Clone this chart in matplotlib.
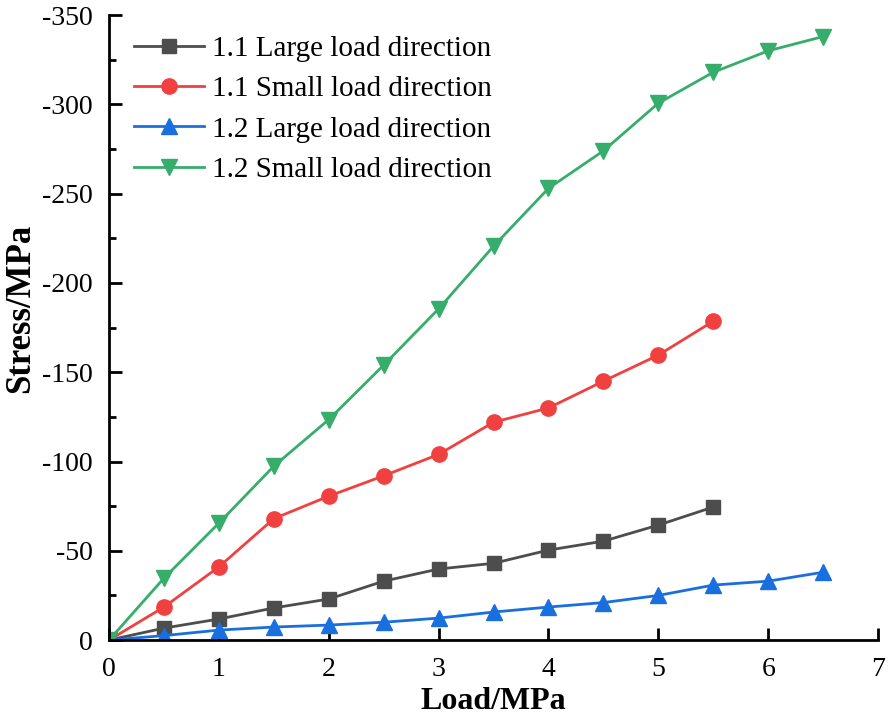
import matplotlib.pyplot as plt
from matplotlib.ticker import MultipleLocator, FuncFormatter

plt.rcParams['font.family'] = ['Liberation Serif', 'DejaVu Serif']

load_a = [0, 0.5, 1, 1.5, 2, 2.5, 3, 3.5, 4, 4.5, 5, 5.5]
load_b = [0, 0.5, 1, 1.5, 2, 2.5, 3, 3.5, 4, 4.5, 5, 5.5, 6, 6.5]

large_11 = [0, -6.7, -11.8, -18, -23, -33, -39.8, -43, -50.4, -55.4, -64.4, -74.5]
small_11 = [0, -18.5, -41, -68, -80.6, -92, -104, -122, -130, -145, -159.6, -178.6]
large_12 = [0, -2.5, -5.6, -7.3, -8.4, -10, -12.3, -15.7, -18.5, -21, -25, -30.8, -33, -38]
small_12 = [0, -34.7, -65.5, -97.4, -123.5, -154, -185.5, -220.6, -253, -274, -300.7, -318, -330, -338]

fig = plt.figure(figsize=(8.96, 7.2), dpi=100)
ax = fig.add_axes([0.1217, 0.111, 0.8583, 0.868])

ms = 11
ax.plot(load_a, large_11, marker='s', color='#4D4D4D', lw=2, ms=ms - 1, label='1.1 Large load direction')
ax.plot(load_a, small_11, marker='o', color='#F14040', lw=2, ms=ms, label='1.1 Small load direction')
ax.plot(load_b, large_12, marker='^', color='#1A6FDF', lw=2, ms=ms, label='1.2 Large load direction')
ax.plot(load_b, small_12, marker='v', color='#37AD6B', lw=2, ms=ms, label='1.2 Small load direction')

ax.set_xlim(0, 7)
ax.set_ylim(0, -350)
ax.xaxis.set_major_locator(MultipleLocator(1))
ax.yaxis.set_major_locator(MultipleLocator(50))
ax.yaxis.set_minor_locator(MultipleLocator(25))
ax.yaxis.set_major_formatter(FuncFormatter(lambda v, p: '%d' % v))

for s in ['top', 'right']:
    ax.spines[s].set_visible(False)
for s in ['left', 'bottom']:
    ax.spines[s].set_linewidth(2)

ax.tick_params(axis='both', which='major', direction='in', length=9, width=2, labelsize=20)
ax.tick_params(axis='x', which='major', pad=12)
ax.tick_params(axis='y', which='major', pad=12)
ax.tick_params(axis='y', which='minor', direction='in', length=5, width=2)

ax.set_xlabel('Load/MPa', fontsize=23, fontweight='bold', labelpad=4)
ax.set_ylabel('Stress/MPa', fontsize=25, fontweight='bold')
ax.yaxis.set_label_coords(-0.094, 0.53)

ax.legend(loc='upper left', frameon=False, fontsize=21, handlelength=2.4,
          handletextpad=0.3, borderaxespad=0.1, labelspacing=0.47,
          bbox_to_anchor=(0.013, 0.99))

plt.savefig('out.png', dpi=100)
